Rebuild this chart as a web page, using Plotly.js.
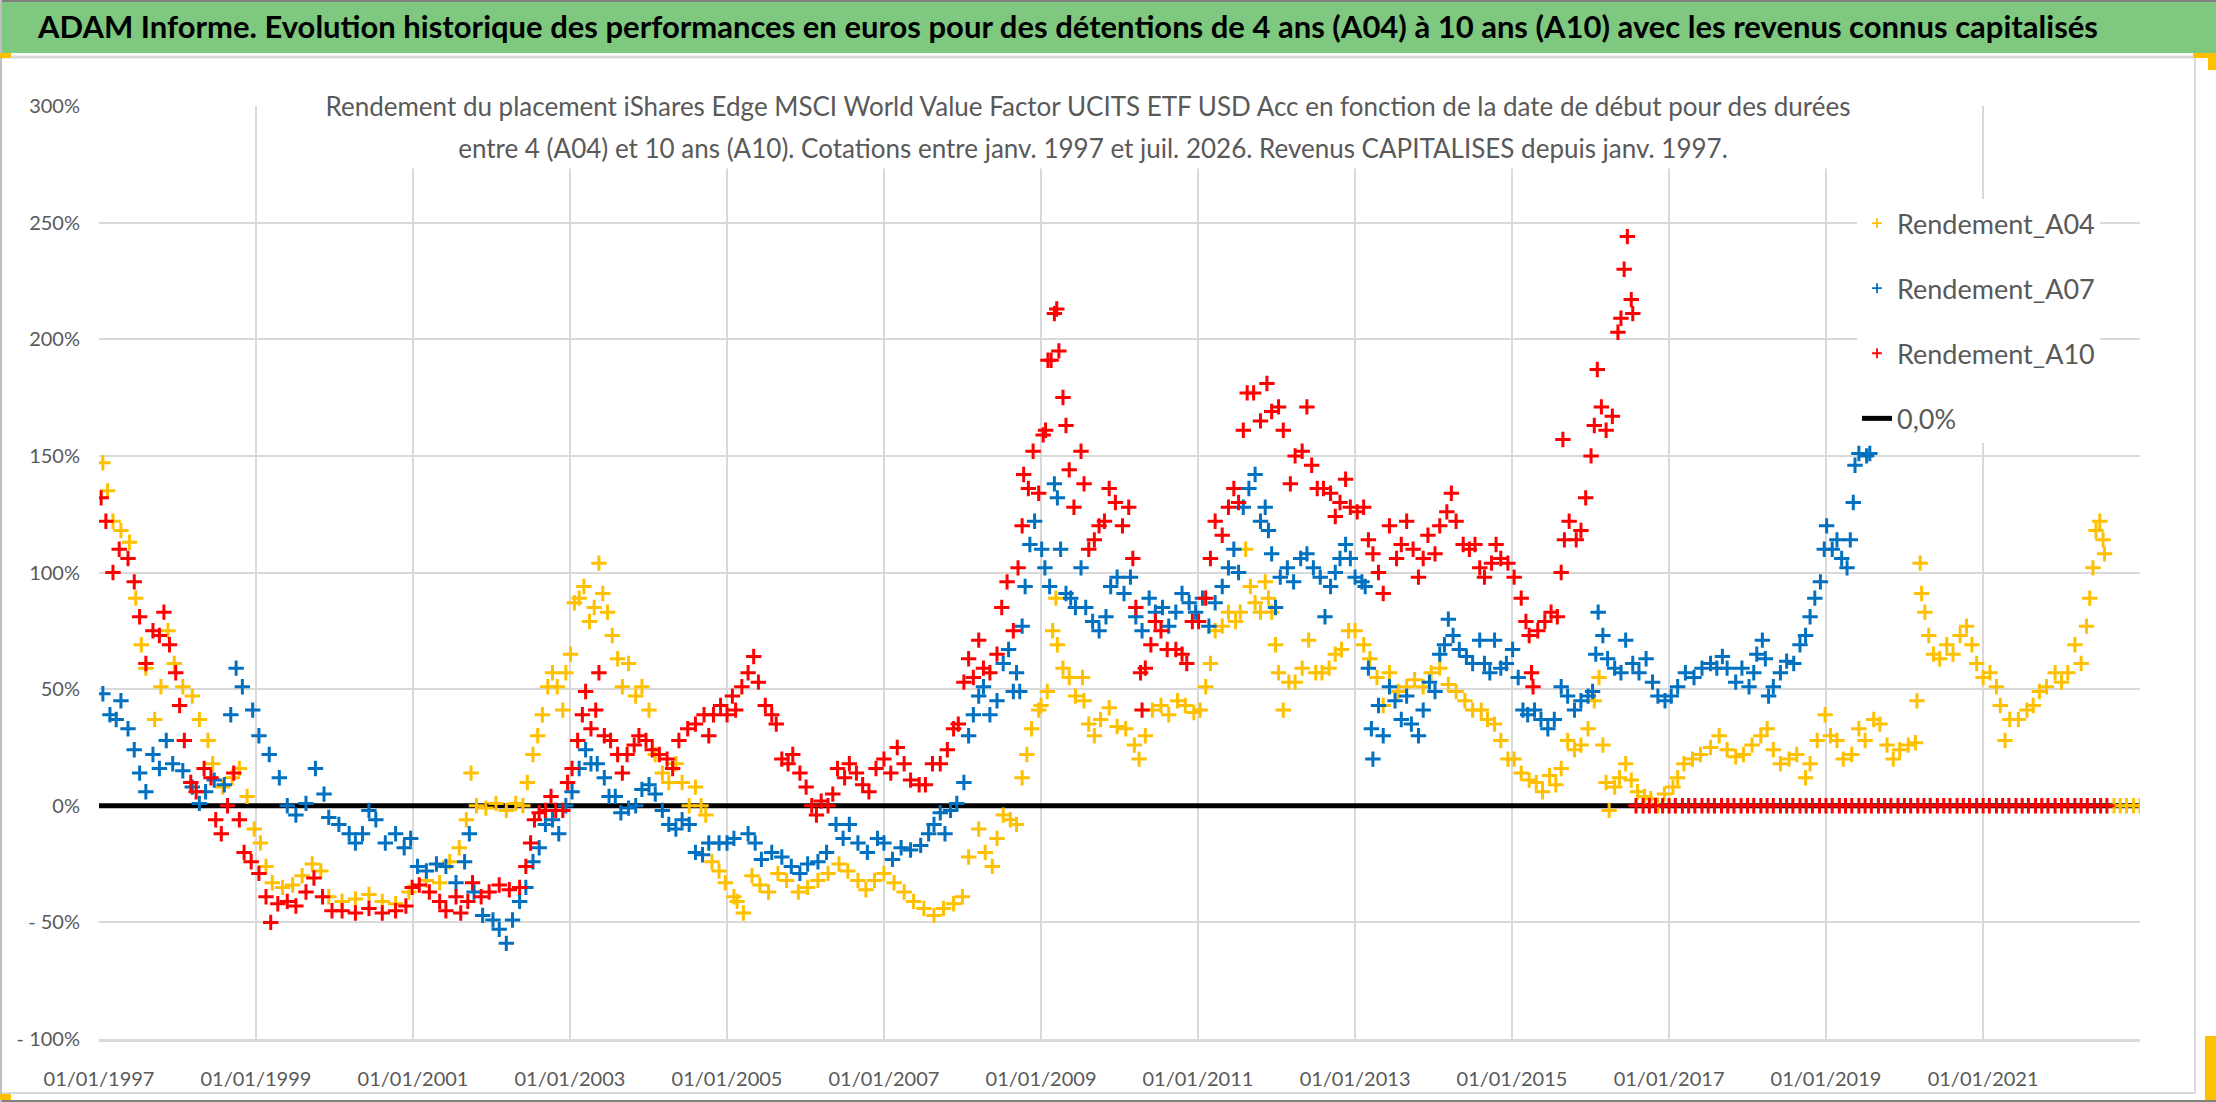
<!DOCTYPE html>
<html>
<head>
<meta charset="utf-8">
<script src="https://cdn.plot.ly/plotly-3.0.1.min.js"></script>
<style>
html,body{margin:0;padding:0;background:#ffffff;}
#chart{width:2216px;height:1102px;}
</style>
</head>
<body>
<div id="chart"></div>
<script>
// ---------- DATA (decimal years, returns in %) ----------
const seriesNames = ['Rendement_A04', 'Rendement_A07', 'Rendement_A10', '0,0%'];

const yearsA04 = [1997.05,1997.11,1997.18,1997.28,1997.39,1997.47,1997.54,1997.60,1997.71,1997.79,1997.88,1997.96,1998.07,1998.19,1998.28,1998.39,1998.45,1998.58,1998.70,1998.79,1998.89,1998.98,1999.06,1999.13,1999.21,1999.34,1999.47,1999.59,1999.72,1999.83,1999.93,2000.10,2000.27,2000.44,2000.61,2000.78,2000.95,2001.17,2001.34,2001.47,2001.59,2001.68,2001.74,2001.81,2001.93,2002.06,2002.19,2002.31,2002.40,2002.46,2002.53,2002.59,2002.65,2002.72,2002.78,2002.84,2002.91,2002.95,2003.01,2003.06,2003.12,2003.18,2003.25,2003.31,2003.37,2003.42,2003.48,2003.54,2003.61,2003.67,2003.75,2003.84,2003.92,2004.01,2004.09,2004.18,2004.26,2004.35,2004.43,2004.52,2004.60,2004.67,2004.73,2004.81,2004.90,2004.98,2005.09,2005.13,2005.21,2005.32,2005.42,2005.53,2005.65,2005.76,2005.91,2006.03,2006.16,2006.29,2006.43,2006.54,2006.67,2006.77,2006.88,2007.00,2007.13,2007.26,2007.38,2007.51,2007.64,2007.76,2007.89,2008.00,2008.08,2008.21,2008.29,2008.38,2008.44,2008.52,2008.61,2008.69,2008.76,2008.82,2008.88,2008.97,2009.00,2009.08,2009.15,2009.19,2009.21,2009.28,2009.36,2009.44,2009.53,2009.55,2009.61,2009.68,2009.76,2009.87,2009.97,2010.08,2010.19,2010.25,2010.33,2010.42,2010.53,2010.63,2010.74,2010.84,2010.95,2011.03,2011.10,2011.16,2011.22,2011.31,2011.39,2011.48,2011.54,2011.61,2011.67,2011.73,2011.80,2011.86,2011.90,2011.94,2011.99,2012.03,2012.09,2012.16,2012.24,2012.33,2012.41,2012.50,2012.58,2012.67,2012.75,2012.83,2012.92,2013.00,2013.11,2013.19,2013.28,2013.36,2013.44,2013.55,2013.66,2013.76,2013.87,2013.97,2014.08,2014.19,2014.29,2014.40,2014.50,2014.61,2014.69,2014.78,2014.86,2014.95,2015.03,2015.12,2015.22,2015.31,2015.39,2015.48,2015.56,2015.63,2015.71,2015.80,2015.88,2015.97,2016.05,2016.11,2016.16,2016.20,2016.24,2016.31,2016.37,2016.45,2016.52,2016.60,2016.69,2016.77,2016.86,2016.94,2017.05,2017.11,2017.19,2017.30,2017.40,2017.53,2017.64,2017.74,2017.85,2017.95,2018.06,2018.17,2018.25,2018.33,2018.42,2018.53,2018.63,2018.74,2018.80,2018.89,2018.99,2019.06,2019.14,2019.22,2019.33,2019.42,2019.50,2019.61,2019.69,2019.78,2019.86,2019.94,2020.05,2020.14,2020.16,2020.20,2020.22,2020.26,2020.31,2020.37,2020.45,2020.54,2020.62,2020.71,2020.79,2020.86,2020.92,2021.00,2021.09,2021.17,2021.22,2021.28,2021.34,2021.45,2021.56,2021.64,2021.72,2021.81,2021.92,2022.00,2022.08,2022.17,2022.25,2022.32,2022.36,2022.40,2022.44,2022.49,2022.53,2022.55,2022.67,2022.75,2022.83,2022.92,2023.00];
const valuesA04 = [147,135,122,118,113,89,69,59,37,51,75,61,51,47,37,28,18,8,12,16,4,-10,-16,-26,-33,-35,-34,-30,-25,-28,-39,-41,-40,-38,-41,-42,-37,-32,-33,-24,-18,-6,14,0,-1,1,-2,1,0,10,22,30,39,51,57,51,41,57,65,87,89,94,79,85,104,91,83,73,63,51,61,47,51,41,22,14,10,18,10,0,8,0,-4,-24,-28,-33,-39,-41,-46,-30,-34,-37,-29,-32,-37,-35,-32,-29,-25,-28,-32,-36,-32,-29,-33,-37,-41,-44,-47,-44,-42,-39,-22,-10,-20,-26,-14,-4,-6,-8,12,22,33,41,43,49,75,89,69,59,55,47,55,45,35,30,37,42,34,33,26,20,30,41,43,39,45,43,40,41,51,61,75,77,83,79,83,110,94,87,83,96,89,83,69,57,41,53,53,59,71,57,57,59,65,67,75,75,69,63,55,43,57,49,51,54,51,57,59,52,49,45,41,41,37,35,28,20,20,14,11,10,6,13,9,16,28,24,26,33,45,55,26,10,-2,8,12,18,11,6,4,3,0,5,8,12,18,20,22,25,30,24,21,22,26,30,33,24,18,20,22,12,18,28,39,30,28,20,22,33,28,37,35,26,20,24,26,27,45,104,91,83,73,65,63,69,65,73,77,69,61,55,57,51,43,28,37,37,41,43,49,51,57,53,57,69,61,77,89,102,118,122,114,108,0,0,0,0,0];

const yearsA07 = [1997.05,1997.14,1997.22,1997.28,1997.37,1997.45,1997.52,1997.60,1997.69,1997.77,1997.86,1997.94,1998.07,1998.19,1998.28,1998.36,1998.47,1998.60,1998.68,1998.75,1998.83,1998.96,1999.04,1999.17,1999.30,1999.40,1999.51,1999.64,1999.76,1999.87,1999.93,2000.06,2000.19,2000.27,2000.36,2000.44,2000.53,2000.65,2000.78,2000.89,2000.97,2001.06,2001.17,2001.30,2001.42,2001.55,2001.66,2001.72,2001.78,2001.89,2002.02,2002.10,2002.19,2002.27,2002.36,2002.44,2002.53,2002.61,2002.69,2002.78,2002.86,2002.95,2003.03,2003.12,2003.20,2003.27,2003.35,2003.44,2003.50,2003.58,2003.65,2003.75,2003.84,2003.92,2004.01,2004.09,2004.18,2004.26,2004.35,2004.43,2004.52,2004.60,2004.69,2004.77,2004.90,2005.00,2005.09,2005.27,2005.36,2005.44,2005.57,2005.70,2005.82,2005.93,2006.03,2006.16,2006.27,2006.39,2006.48,2006.56,2006.67,2006.79,2006.92,2007.00,2007.11,2007.22,2007.34,2007.47,2007.57,2007.64,2007.72,2007.78,2007.85,2007.93,2008.02,2008.08,2008.14,2008.21,2008.27,2008.35,2008.44,2008.52,2008.59,2008.65,2008.69,2008.73,2008.76,2008.80,2008.86,2008.92,2009.01,2009.05,2009.11,2009.17,2009.21,2009.25,2009.32,2009.38,2009.44,2009.51,2009.57,2009.66,2009.74,2009.83,2009.89,2009.97,2010.06,2010.14,2010.21,2010.29,2010.38,2010.46,2010.55,2010.63,2010.72,2010.80,2010.89,2010.97,2011.06,2011.14,2011.22,2011.31,2011.39,2011.46,2011.52,2011.58,2011.65,2011.73,2011.80,2011.86,2011.90,2011.94,2011.99,2012.05,2012.14,2012.22,2012.31,2012.39,2012.47,2012.56,2012.62,2012.69,2012.75,2012.81,2012.88,2012.94,2013.00,2013.09,2013.13,2013.17,2013.21,2013.23,2013.30,2013.36,2013.44,2013.51,2013.59,2013.66,2013.72,2013.81,2013.87,2013.95,2014.02,2014.08,2014.14,2014.19,2014.25,2014.33,2014.42,2014.50,2014.59,2014.65,2014.72,2014.78,2014.86,2014.93,2015.01,2015.08,2015.14,2015.20,2015.29,2015.37,2015.46,2015.54,2015.63,2015.71,2015.80,2015.88,2015.97,2016.03,2016.07,2016.10,2016.16,2016.22,2016.31,2016.39,2016.45,2016.54,2016.62,2016.71,2016.79,2016.86,2016.95,2017.03,2017.11,2017.21,2017.32,2017.42,2017.53,2017.61,2017.68,2017.74,2017.85,2017.93,2018.02,2018.08,2018.12,2018.19,2018.23,2018.27,2018.33,2018.42,2018.50,2018.59,2018.67,2018.74,2018.80,2018.86,2018.93,2018.98,2019.01,2019.08,2019.14,2019.20,2019.27,2019.31,2019.35,2019.37,2019.42,2019.52,2019.56];
const valuesA07 = [48,39,37,45,33,24,14,6,22,16,28,18,15,8,1,6,11,9,39,59,51,41,30,22,12,0,-4,1,16,5,-5,-8,-12,-16,-12,-2,-6,-16,-12,-18,-14,-26,-28,-25,-26,-33,-24,-12,-37,-47,-49,-53,-59,-49,-41,-35,-24,-18,-8,-6,-12,0,6,16,24,18,18,12,4,4,-3,-1,0,7,9,5,-2,-8,-10,-6,-8,-20,-21,-16,-16,-16,-14,-12,-16,-23,-20,-22,-26,-29,-25,-24,-20,-8,-14,-8,-16,-20,-14,-16,-23,-18,-19,-17,-12,-8,-3,-12,-2,1,10,30,39,47,51,39,45,61,67,49,57,49,77,94,112,122,110,102,94,138,132,110,91,89,85,102,85,79,75,81,94,98,91,98,81,75,89,83,85,77,83,91,87,83,89,77,87,94,102,110,100,128,136,142,122,128,118,108,85,98,102,96,106,108,102,98,81,94,100,106,112,106,98,96,94,59,33,20,43,30,51,45,37,47,35,30,41,53,49,65,69,80,73,67,64,61,71,61,57,71,59,61,67,55,41,39,41,37,33,37,51,47,41,45,47,49,65,83,73,63,59,57,71,61,57,63,53,47,45,47,51,57,55,59,61,59,64,59,53,59,51,57,65,71,63,47,51,57,62,61,69,73,81,89,96,110,120,110,114,106,102,114,130,146,151,150,151];

const yearsA10 = [1997.03,1997.09,1997.18,1997.26,1997.37,1997.45,1997.52,1997.60,1997.69,1997.77,1997.83,1997.90,1997.98,1998.03,1998.09,1998.17,1998.24,1998.34,1998.43,1998.49,1998.56,1998.64,1998.72,1998.79,1998.85,1998.94,1999.04,1999.13,1999.19,1999.28,1999.40,1999.51,1999.64,1999.74,1999.85,1999.97,2000.10,2000.27,2000.44,2000.61,2000.78,2000.91,2000.99,2001.08,2001.21,2001.34,2001.42,2001.55,2001.61,2001.70,2001.76,2001.87,2001.97,2002.10,2002.23,2002.36,2002.44,2002.50,2002.55,2002.61,2002.69,2002.76,2002.82,2002.91,2002.97,2003.03,2003.10,2003.16,2003.20,2003.27,2003.33,2003.37,2003.44,2003.52,2003.61,2003.67,2003.73,2003.82,2003.88,2003.97,2004.05,2004.14,2004.24,2004.31,2004.39,2004.50,2004.60,2004.71,2004.77,2004.83,2004.92,2005.00,2005.07,2005.11,2005.19,2005.27,2005.34,2005.40,2005.49,2005.57,2005.63,2005.70,2005.78,2005.84,2005.93,2006.01,2006.08,2006.14,2006.20,2006.29,2006.35,2006.41,2006.50,2006.56,2006.65,2006.73,2006.81,2006.90,2007.00,2007.09,2007.17,2007.26,2007.34,2007.45,2007.53,2007.62,2007.72,2007.81,2007.89,2007.95,2008.02,2008.08,2008.14,2008.21,2008.27,2008.35,2008.44,2008.50,2008.57,2008.65,2008.71,2008.76,2008.78,2008.84,2008.90,2008.97,2009.03,2009.06,2009.09,2009.13,2009.17,2009.20,2009.23,2009.28,2009.32,2009.36,2009.42,2009.51,2009.55,2009.61,2009.68,2009.74,2009.81,2009.87,2009.95,2010.04,2010.12,2010.17,2010.21,2010.27,2010.29,2010.33,2010.40,2010.46,2010.53,2010.61,2010.72,2010.80,2010.86,2010.93,2011.01,2011.10,2011.16,2011.22,2011.31,2011.39,2011.46,2011.52,2011.58,2011.63,2011.71,2011.80,2011.88,2011.94,2012.03,2012.09,2012.18,2012.24,2012.33,2012.39,2012.45,2012.52,2012.60,2012.69,2012.75,2012.81,2012.88,2012.94,2013.03,2013.11,2013.17,2013.23,2013.30,2013.36,2013.44,2013.53,2013.59,2013.66,2013.74,2013.81,2013.87,2013.93,2014.02,2014.08,2014.17,2014.23,2014.29,2014.38,2014.46,2014.53,2014.59,2014.65,2014.74,2014.80,2014.86,2014.95,2015.03,2015.12,2015.18,2015.22,2015.25,2015.27,2015.33,2015.42,2015.50,2015.58,2015.63,2015.65,2015.67,2015.73,2015.82,2015.88,2015.94,2016.01,2016.05,2016.09,2016.14,2016.20,2016.28,2016.35,2016.39,2016.43,2016.47,2016.52,2016.54,
2016.58,2016.67,2016.75,2016.83,2016.92,
2017.00,2017.08,2017.17,2017.25,2017.33,2017.42,2017.50,2017.58,2017.67,2017.75,2017.83,2017.92,
2018.00,2018.08,2018.17,2018.25,2018.33,2018.42,2018.50,2018.58,2018.67,2018.75,2018.83,2018.92,
2019.00,2019.08,2019.17,2019.25,2019.33,2019.42,2019.50,2019.58,2019.67,2019.75,2019.83,2019.92,
2020.00,2020.08,2020.17,2020.25,2020.33,2020.42,2020.50,2020.58,2020.67,2020.75,2020.83,2020.92,
2021.00,2021.08,2021.17,2021.25,2021.33,2021.42,2021.50,2021.58,2021.67,2021.75,2021.83,2021.92,
2022.00,2022.08,2022.17,2022.25,2022.33,2022.42,2022.50,2022.58];
const valuesA10 = [132,122,100,110,106,96,81,61,75,73,83,69,57,43,28,10,6,16,12,-6,-12,0,14,-6,-20,-24,-29,-39,-50,-42,-41,-43,-37,-31,-39,-45,-45,-46,-44,-46,-45,-43,-35,-34,-37,-41,-45,-39,-46,-41,-33,-39,-37,-34,-36,-35,-26,-16,-6,-3,-2,4,-2,-2,10,16,28,39,49,33,41,57,30,28,22,14,22,26,30,28,24,22,20,16,28,33,35,39,30,39,43,39,47,41,51,57,64,53,43,39,35,20,18,22,14,8,0,-4,2,0,5,16,12,18,14,9,6,16,20,14,25,18,11,9,9,18,18,24,33,35,53,63,55,71,59,57,65,85,96,75,102,120,142,136,152,134,159,161,191,191,211,213,195,175,163,144,128,152,138,110,114,120,122,136,130,120,128,106,85,57,41,59,69,79,75,67,67,65,61,79,79,89,106,122,116,128,136,130,161,177,177,165,181,169,171,161,138,150,152,171,146,136,136,134,124,130,140,128,126,128,114,108,100,91,120,106,112,122,110,98,106,116,108,120,126,134,122,112,110,112,102,98,104,112,106,104,98,89,79,73,57,51,75,79,83,81,100,157,114,122,114,118,132,150,163,187,171,161,167,203,209,230,244,217,211,
0,0,0,0,0,
0,0,0,0,0,0,0,0,0,0,0,0,
0,0,0,0,0,0,0,0,0,0,0,0,
0,0,0,0,0,0,0,0,0,0,0,0,
0,0,0,0,0,0,0,0,0,0,0,0,
0,0,0,0,0,0,0,0,0,0,0,0,
0,0,0,0,0,0,0,0];

const zeroLineYears = [1997.0, 2023.0];
const zeroLineValues = [0, 0];

const xTickLabels = ['01/01/1997','01/01/1999','01/01/2001','01/01/2003','01/01/2005','01/01/2007','01/01/2009','01/01/2011','01/01/2013','01/01/2015','01/01/2017','01/01/2019','01/01/2021'];
const yTickValues = [-100,-50,0,50,100,150,200,250,300];
const yTickLabels = ['- 100%','- 50%','0%','50%','100%','150%','200%','250%','300%'];

const mainTitle = 'ADAM Informe. Evolution historique des performances en euros pour des détentions de 4 ans (A04) à 10 ans (A10) avec les revenus connus capitalisés';
const subtitleLine1 = 'Rendement du placement iShares Edge MSCI World Value Factor UCITS ETF USD Acc en fonction de la date de début pour des durées';
const subtitleLine2 = 'entre 4 (A04) et 10 ans (A10). Cotations entre janv. 1997 et juil. 2026. Revenus CAPITALISES depuis janv. 1997.';

// ---------- helpers ----------
function yearToDate(y) {
  const yr = Math.floor(y + 1e-9);
  const start = Date.UTC(yr, 0, 1), end = Date.UTC(yr + 1, 0, 1);
  return new Date(start + (y - yr) * (end - start)).toISOString().slice(0, 10);
}
function labelToDate(s) { const p = s.split('/'); return p[2] + '-' + p[1] + '-' + p[0]; }

const W = 2216, H = 1102;
const M = {l: 99, r: 76, t: 106, b: 63};
const PW = W - M.l - M.r, PH = H - M.t - M.b;
const px = x => (x - M.l) / PW;
const py = y => 1 - (y - M.t) / PH;

const FONT = 'Lato, "Open Sans", "Liberation Sans", sans-serif';
const GREY_TXT = '#595959';
const COLORS = ['#FFC000', '#0070C0', '#FF0000', '#000000'];

function scatterTrace(name, years, values, color) {
  return {
    type: 'scatter', mode: 'markers', name: name, showlegend: false,
    x: years.map(yearToDate), y: values,
    marker: {symbol: 'cross-thin', size: 11, color: color, line: {color: color, width: 3}},
    hoverinfo: 'x+y+name'
  };
}
// legend-only entries (small markers like the original legend)
function legendEntry(name, color, rank) {
  return {
    type: 'scatter', mode: 'markers', name: name, x: [null], y: [null],
    legendgroup: name, legendrank: rank,
    marker: {symbol: 'cross-thin', size: 7, color: color, line: {color: color, width: 1.8}}
  };
}

const traces = [
  {type: 'scatter', mode: 'lines', name: seriesNames[3], x: zeroLineYears.map(yearToDate), y: zeroLineValues,
   line: {color: COLORS[3], width: 5}, legendgroup: 'zero', legendrank: 4},
  scatterTrace(seriesNames[0], yearsA04, valuesA04, COLORS[0]),
  scatterTrace(seriesNames[1], yearsA07, valuesA07, COLORS[1]),
  scatterTrace(seriesNames[2], yearsA10, valuesA10, COLORS[2]),
  legendEntry(seriesNames[0], COLORS[0], 1),
  legendEntry(seriesNames[1], COLORS[1], 2),
  legendEntry(seriesNames[2], COLORS[2], 3)
];

const layout = {
  width: W, height: H,
  margin: {l: M.l, r: M.r, t: M.t, b: M.b, pad: 0},
  paper_bgcolor: '#ffffff', plot_bgcolor: '#ffffff',
  font: {family: FONT, color: GREY_TXT},
  showlegend: true,
  title: {
    text: '<b>' + mainTitle + '</b>',
    font: {family: FONT, size: 31, color: '#000000'},
    xref: 'container', yref: 'container',
    x: 1068 / W, xanchor: 'center', y: 1 - 27 / H, yanchor: 'middle'
  },
  xaxis: {
    type: 'date',
    range: [yearToDate(1997.0), yearToDate(2023.0)],
    tickmode: 'array',
    tickvals: xTickLabels.map(labelToDate),
    ticktext: xTickLabels,
    showgrid: true, gridcolor: '#d9d9d9', gridwidth: 2,
    showline: true, linecolor: '#d9d9d9', linewidth: 3,
    zeroline: false, ticks: '',
    tickfont: {family: FONT, size: 20, color: GREY_TXT},
    ticklabelstandoff: 20,
    fixedrange: true
  },
  yaxis: {
    range: [-100, 300],
    tickmode: 'array',
    tickvals: yTickValues, ticktext: yTickLabels,
    showgrid: true, gridcolor: '#d9d9d9', gridwidth: 2,
    showline: false, zeroline: false, ticks: '',
    tickfont: {family: FONT, size: 20, color: GREY_TXT},
    ticklabelstandoff: 18,
    fixedrange: true
  },
  legend: {
    x: px(1857), xanchor: 'left', y: py(199), yanchor: 'top',
    bgcolor: '#ffffff', borderwidth: 0,
    font: {family: FONT, size: 27, color: GREY_TXT},
    tracegroupgap: 27, itemsizing: 'trace', traceorder: 'grouped'
  },
  annotations: [
    {text: subtitleLine1, xref: 'paper', yref: 'paper', x: px(1088), y: py(106),
     xanchor: 'center', yanchor: 'middle', showarrow: false,
     font: {family: FONT, size: 26, color: GREY_TXT},
     bgcolor: '#ffffff', width: 1600, height: 46, borderpad: 0},
    {text: subtitleLine2, xref: 'paper', yref: 'paper', x: px(1093), y: py(148),
     xanchor: 'center', yanchor: 'middle', showarrow: false,
     font: {family: FONT, size: 26, color: GREY_TXT},
     bgcolor: '#ffffff', width: 1600, height: 40, borderpad: 0}
  ],
  shapes: [
    {type: 'rect', xref: 'paper', yref: 'paper', x0: px(0), x1: px(W), y0: py(53), y1: py(0),
     fillcolor: '#7ec87f', line: {width: 0}, layer: 'below'},
    {type: 'line', xref: 'paper', yref: 'paper', x0: px(0), x1: px(W), y0: py(1), y1: py(1),
     line: {color: '#7f7f7f', width: 2}},
    {type: 'line', xref: 'paper', yref: 'paper', x0: px(0), x1: px(2195), y0: py(57), y1: py(57),
     line: {color: '#d9d9d9', width: 3}},
    {type: 'line', xref: 'paper', yref: 'paper', x0: px(2195), x1: px(2195), y0: py(57), y1: py(1093),
     line: {color: '#d9d9d9', width: 2}},
    {type: 'line', xref: 'paper', yref: 'paper', x0: px(0), x1: px(2195), y0: py(1093), y1: py(1093),
     line: {color: '#d9d9d9', width: 2}},
    {type: 'line', xref: 'paper', yref: 'paper', x0: px(0), x1: px(W), y0: py(1101), y1: py(1101),
     line: {color: '#7f7f7f', width: 2}},
    {type: 'line', xref: 'paper', yref: 'paper', x0: px(1), x1: px(1), y0: py(0), y1: py(H),
     line: {color: '#bfbfbf', width: 2}},
    {type: 'rect', xref: 'paper', yref: 'paper', x0: px(0), x1: px(11), y0: py(58), y1: py(53),
     fillcolor: '#FFC000', line: {width: 0}},
    {type: 'rect', xref: 'paper', yref: 'paper', x0: px(0), x1: px(11), y0: py(1100), y1: py(1094),
     fillcolor: '#FFC000', line: {width: 0}},
    {type: 'rect', xref: 'paper', yref: 'paper', x0: px(2193), x1: px(W), y0: py(58), y1: py(53),
     fillcolor: '#FFC000', line: {width: 0}},
    {type: 'rect', xref: 'paper', yref: 'paper', x0: px(2208), x1: px(W), y0: py(70), y1: py(53),
     fillcolor: '#FFC000', line: {width: 0}},
    {type: 'rect', xref: 'paper', yref: 'paper', x0: px(2205), x1: px(W), y0: py(1100), y1: py(1036),
     fillcolor: '#FFC000', line: {width: 0}}
  ]
};

Plotly.newPlot('chart', traces, layout, {displayModeBar: false, staticPlot: true});
</script>
</body>
</html>
